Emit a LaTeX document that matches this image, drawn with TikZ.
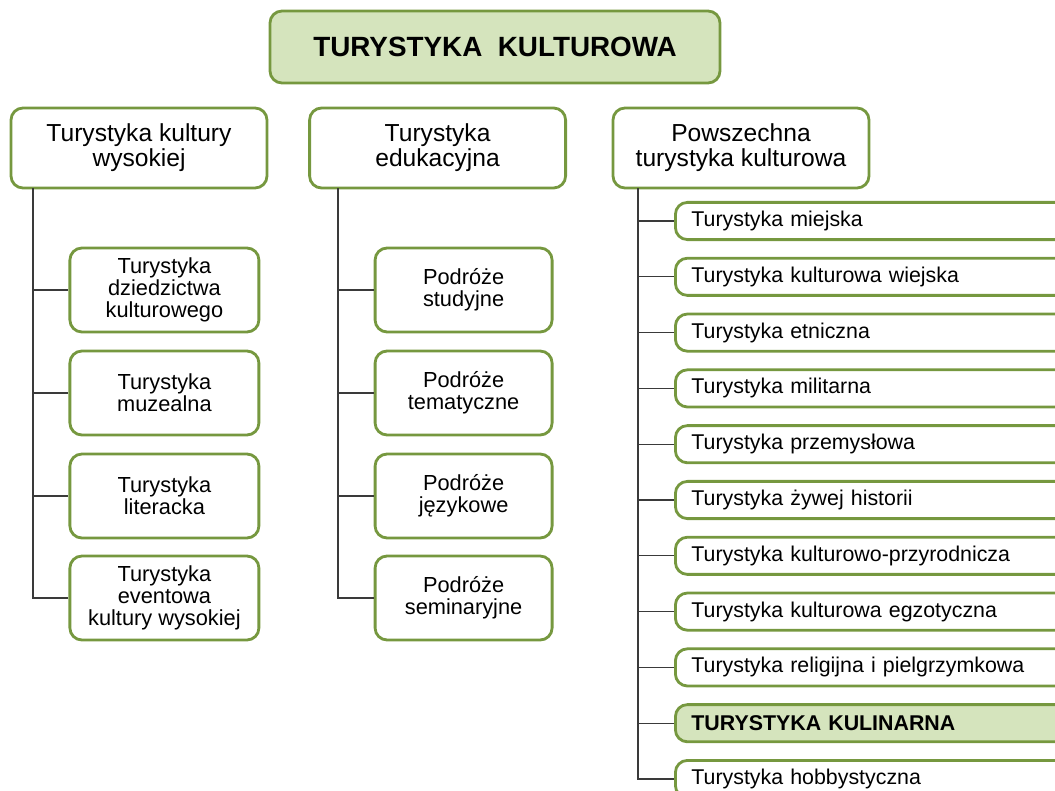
\documentclass[tikz,border=0pt]{standalone}
\usepackage{fontspec}
\setmainfont{Liberation Sans}
\usepackage{xcolor}
\definecolor{ramka}{HTML}{76983F}
\definecolor{tlo}{HTML}{D5E4BD}
\definecolor{linia}{HTML}{3A3A3A}

\begin{document}
\begin{tikzpicture}[scale=1,
  ramka/.style={draw=ramka,line width=2pt,rounded corners=0.3cm,fill=white},
  tytul/.style={ramka,fill=tlo,minimum width=11.25cm,minimum height=1.8cm,font=\fontsize{19.8}{24}\selectfont\bfseries},
  naglowek/.style={ramka,minimum width=6.4cm,minimum height=2cm,align=center,font=\fontsize{17.5}{17.7}\selectfont},
  podtyp/.style={ramka,minimum height=2.1cm,align=center,font=\fontsize{15.5}{15.6}\selectfont},
  wiersz/.style={ramka,anchor=west,minimum width=10.65cm,minimum height=0.93cm,inner xsep=0.4cm,text width=9.85cm,align=left,font=\fontsize{15.2}{17}\selectfont},
  galaz/.style={draw=linia,line width=0.75pt}]
\useasboundingbox (0,0) rectangle (26.375,-19.775);
\clip (0,0) rectangle (26.375,-19.775);
\node[tytul] (tytul) at (12.375,-1.175) {TURYSTYKA\ \ KULTUROWA};
% naglowki kolumn
\node[naglowek] (wys) at (3.475,-3.7) {Turystyka kultury\\wysokiej};
\node[naglowek] (edu) at (10.94,-3.7) {Turystyka\\edukacyjna};
\node[naglowek] (pow) at (18.525,-3.7) {Powszechna\\turystyka kulturowa};
\coordinate (pnW) at (0.825,-4.7);
\coordinate (pnE) at (8.45,-4.7);
\coordinate (pnP) at (15.95,-4.7);
% kultura wysoka
\node[podtyp,minimum width=4.725cm] (w1) at (4.11,-7.25) {Turystyka\\dziedzictwa\\kulturowego};
\node[podtyp,minimum width=4.725cm] (w2) at (4.11,-9.825) {Turystyka\\muzealna};
\node[podtyp,minimum width=4.725cm] (w3) at (4.11,-12.4) {Turystyka\\literacka};
\node[podtyp,minimum width=4.725cm] (w4) at (4.11,-14.95) {Turystyka\\eventowa\\kultury wysokiej};
% edukacyjna
\node[podtyp,minimum width=4.425cm] (e1) at (11.59,-7.25) {Podróże\\studyjne};
\node[podtyp,minimum width=4.425cm] (e2) at (11.59,-9.825) {Podróże\\tematyczne};
\node[podtyp,minimum width=4.425cm] (e3) at (11.59,-12.4) {Podróże\\językowe};
\node[podtyp,minimum width=4.425cm] (e4) at (11.59,-14.95) {Podróże\\seminaryjne};
% powszechna
\foreach \t [count=\i] in {Turystyka miejska,Turystyka kulturowa wiejska,Turystyka etniczna,Turystyka militarna,Turystyka przemysłowa,Turystyka żywej historii,Turystyka kulturowo-przyrodnicza,Turystyka kulturowa egzotyczna,Turystyka religijna i pielgrzymkowa}
  \node[wiersz] (p\i) at (16.85,-5.525-1.395*\i+1.395) {\t};
\node[wiersz,fill=tlo,font=\fontsize{15.2}{17}\selectfont\bfseries] (p10) at (16.85,-18.08) {TURYSTYKA KULINARNA};
\node[wiersz] (p11) at (16.85,-19.475) {Turystyka hobbystyczna};
% polaczenia
\foreach \n in {w1,w2,w3,w4}
  \draw[galaz] (pnW) |- (\n.west);
\foreach \n in {e1,e2,e3,e4}
  \draw[galaz] (pnE) |- (\n.west);
\foreach \n in {1,...,11}
  \draw[galaz] (pnP) |- (p\n.west);
\end{tikzpicture}
\end{document}
